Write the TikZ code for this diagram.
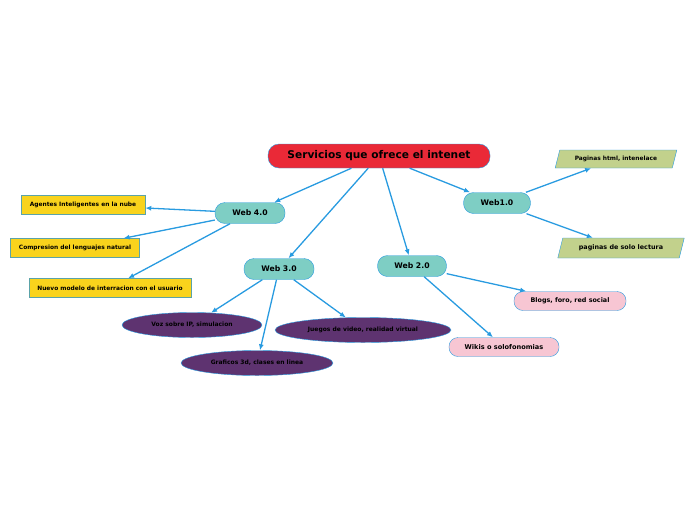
\documentclass[tikz,border=0pt]{standalone}
\usepackage{fontspec}
\setmainfont{DejaVu Sans}
\usetikzlibrary{arrows.meta,shapes.geometric}
\definecolor{linkblue}{HTML}{299BE0}
\definecolor{rootred}{HTML}{EA2937}
\definecolor{webteal}{HTML}{7ECEC4}
\definecolor{ideayellow}{HTML}{F9D31C}
\definecolor{boxedge}{HTML}{5BA3A8}
\definecolor{techpurple}{HTML}{5E3370}
\definecolor{pagegreen}{HTML}{C2D18C}
\definecolor{toolpink}{HTML}{F7C6D3}

\begin{document}
\begin{tikzpicture}[
  x=1pt,y=-1pt,
  root/.style={draw=linkblue,fill=rootred,rounded corners=11pt,inner sep=0pt,minimum width=222pt,minimum height=24pt,font=\fontsize{10.6}{12}\selectfont\bfseries},
  web/.style={draw=linkblue,fill=webteal,rounded corners=10pt,inner sep=0pt,minimum width=70pt,minimum height=21pt,font=\fontsize{7.7}{9}\selectfont\bfseries},
  idea/.style={draw=boxedge,fill=ideayellow,inner sep=0pt,minimum height=19pt,font=\fontsize{5.9}{7}\selectfont\bfseries},
  tech/.style={ellipse,draw=linkblue,fill=techpurple,inner sep=0pt,minimum height=25pt,font=\fontsize{6}{7}\selectfont\bfseries},
  page/.style={trapezium,trapezium left angle=60,trapezium right angle=120,trapezium stretches=true,draw=linkblue,fill=pagegreen,inner sep=0pt,minimum height=18pt,font=\fontsize{5.9}{7}\selectfont\bfseries},
  tool/.style={draw=linkblue,fill=toolpink,rounded corners=9pt,inner sep=0pt,minimum height=19pt,font=\fontsize{6.4}{7.5}\selectfont\bfseries},
  flow/.style={-{Latex[length=6pt,width=5pt]},line width=1.3pt,linkblue}
]
\useasboundingbox (0,0) rectangle (696,520);
\node[root] (n0) at (379,156) {Servicios que ofrece el intenet};
% cuatro etapas de la web
\node[web] (n1) at (250,213) {Web 4.0};
\node[web] (n2) at (279,269) {Web 3.0};
\node[web,minimum width=69pt] (n3) at (412,266) {Web 2.0};
\node[web,minimum width=67pt] (n4) at (497,203) {Web1.0};
\draw[flow] (n0) -- (n1);
\draw[flow] (n0) -- (n2);
\draw[flow] (n0) -- (n3);
\draw[flow] (n0) -- (n4);
% Web 4.0
\node[idea,minimum width=124pt] (n5) at (83,205) {Agentes Inteligentes en la nube};
\node[idea,minimum width=129pt] (n6) at (75,248) {Compresion del lenguajes natural};
\node[idea,minimum width=162pt] (n7) at (110,288) {Nuevo modelo de interracion con el usuario};
\draw[flow] (n1) -- (n5);
\draw[flow] (n1) -- (n6);
\draw[flow] (n1) -- (n7);
% Web 3.0
\node[tech,minimum width=140pt] (n8) at (192,325) {Voz sobre IP, simulacion};
\node[tech,minimum width=176pt] (n9) at (363,330) {Juegos de video, realidad virtual};
\node[tech,minimum width=152pt] (n10) at (257,363) {Graficos 3d, clases en linea};
\draw[flow] (n2) -- (n8);
\draw[flow] (n2) -- (n10);
\draw[flow] (n2) -- (n9);
% Web 2.0
\node[tool,minimum width=112pt] (n11) at (570,301) {Blogs, foro, red social};
\node[tool,minimum width=110pt,font=\fontsize{6.6}{7.7}\selectfont\bfseries] (n12) at (504,347) {Wikis o solofonomias};
\draw[flow] (n3) -- (n11);
\draw[flow] (n3) -- (n12);
% Web1.0
\node[page,minimum width=122pt] (n13) at (616,159) {Paginas html, intenelace};
\node[page,minimum width=127pt,minimum height=20pt,font=\fontsize{6.4}{7.5}\selectfont\bfseries] (n14) at (621,248) {paginas de solo lectura};
\draw[flow] (n4) -- (n13);
\draw[flow] (n4) -- (n14);
\end{tikzpicture}
\end{document}
